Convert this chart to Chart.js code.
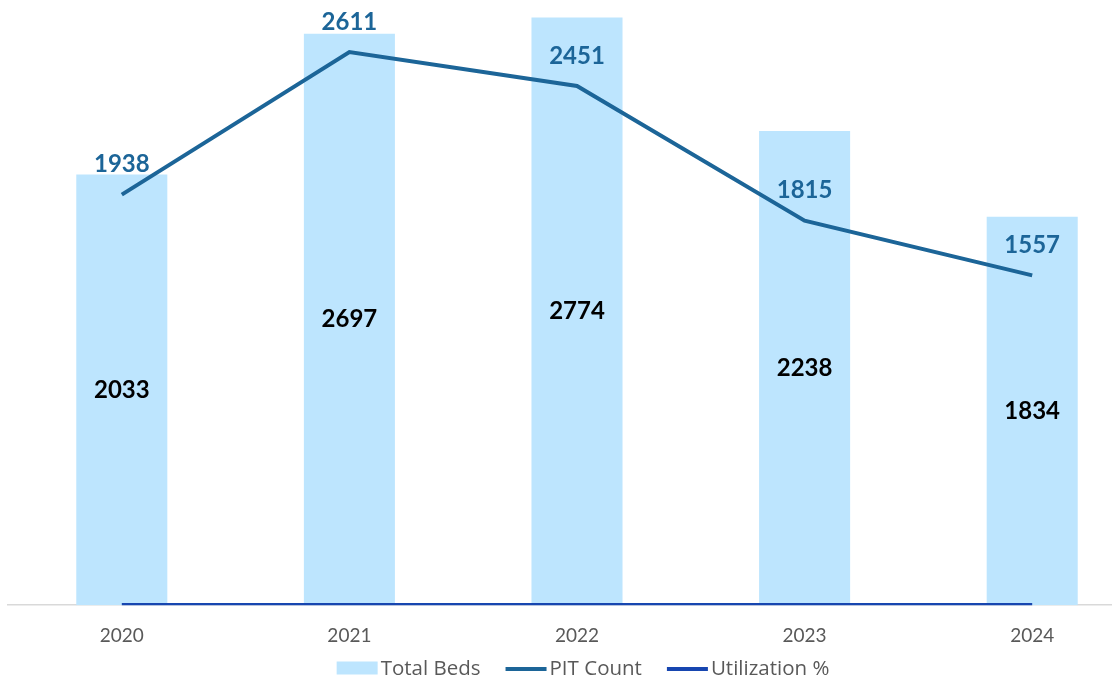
<!DOCTYPE html>
<html>
<head>
<meta charset="utf-8">
<script src="https://cdn.jsdelivr.net/npm/chart.js@4.4.1/dist/chart.umd.min.js"></script>
<style>
html,body{margin:0;padding:0;background:#fff;overflow:hidden;}
#wrap{width:1112px;height:680px;overflow:hidden;position:relative;}
canvas{display:block;}
</style>
</head>
<body>
<div id="wrap"><canvas id="c" width="1166" height="680"></canvas></div>
<script>
const categories = ['2020', '2021', '2022', '2023', '2024'];
const totalBeds = [2033, 2697, 2774, 2238, 1834];
const pitCount = [1938, 2611, 2451, 1815, 1557];
const utilization = [0.95, 0.97, 0.88, 0.81, 0.85];
const seriesNames = ['Total Beds', 'PIT Count', 'Utilization %'];

const BAR_COLOR = '#BDE5FE';
const PIT_COLOR = '#1C6598';
const UTIL_COLOR = '#1746B0';
const FONT = 'Lato, "Open Sans", sans-serif';
const LEGEND_FONT = '"Open Sans", Lato, sans-serif';

const labelPlugin = {
  id: 'valueLabels',
  afterDatasetsDraw(chart) {
    const ctx = chart.ctx;
    ctx.save();
    ctx.font = 'bold 24px ' + FONT;
    ctx.textAlign = 'center';
    ctx.textBaseline = 'middle';
    chart.getDatasetMeta(0).data.forEach((el, i) => {
      ctx.fillStyle = '#000000';
      ctx.fillText(String(totalBeds[i]), el.x, (el.y + el.base) / 2);
    });
    chart.getDatasetMeta(1).data.forEach((el, i) => {
      ctx.fillStyle = PIT_COLOR;
      ctx.fillText(String(pitCount[i]), el.x, el.y - 30);
    });
    ctx.restore();
  }
};

const legendPlugin = {
  id: 'bottomLegend',
  afterDraw(chart) {
    const ctx = chart.ctx;
    ctx.save();
    ctx.font = '20.5px ' + LEGEND_FONT;
    ctx.textBaseline = 'middle';
    ctx.textAlign = 'left';
    const symW = 41, textGap = 3, itemGap = 25;
    const items = chart.data.datasets.map(ds => ({
      text: ds.label,
      type: ds.type,
      color: ds.type === 'bar' ? ds.backgroundColor : ds.borderColor,
      w: symW + textGap + ctx.measureText(ds.label).width
    }));
    const total = items.reduce((s, it) => s + it.w, 0) + itemGap * (items.length - 1);
    let x = chart.width / 2 - total / 2;
    const y = 668;
    items.forEach(it => {
      if (it.type === 'bar') {
        ctx.fillStyle = it.color;
        ctx.fillRect(x, y - 6.5, symW, 13);
      } else {
        ctx.strokeStyle = it.color;
        ctx.lineWidth = 4;
        ctx.beginPath();
        ctx.moveTo(x, y + 1);
        ctx.lineTo(x + symW, y + 1);
        ctx.stroke();
      }
      ctx.fillStyle = '#595959';
      ctx.fillText(it.text, x + symW + textGap, y + 1);
      x += it.w + itemGap;
    });
    ctx.restore();
  }
};

new Chart(document.getElementById('c'), {
  data: {
    labels: categories,
    datasets: [
      {
        type: 'bar',
        label: seriesNames[0],
        data: totalBeds,
        backgroundColor: BAR_COLOR,
        borderWidth: 0,
        barPercentage: 0.4,
        categoryPercentage: 1.0,
        order: 3
      },
      {
        type: 'line',
        label: seriesNames[1],
        data: pitCount,
        borderColor: PIT_COLOR,
        backgroundColor: PIT_COLOR,
        borderWidth: 4,
        pointRadius: 0,
        tension: 0,
        order: 2
      },
      {
        type: 'line',
        label: seriesNames[2],
        data: utilization,
        borderColor: UTIL_COLOR,
        backgroundColor: UTIL_COLOR,
        borderWidth: 4,
        pointRadius: 0,
        tension: 0,
        order: 1
      }
    ]
  },
  options: {
    responsive: false,
    animation: false,
    layout: { padding: { left: 8, right: 20, top: 12, bottom: 14 } },
    plugins: {
      tooltip: { enabled: false },
      legend: { display: false }
    },
    scales: {
      x: {
        grid: { display: false, drawTicks: false, tickLength: 0 },
        border: { display: true, color: '#D9D9D9', width: 1.5 },
        ticks: { color: '#595959', font: { family: FONT, size: 19 }, padding: 19 }
      },
      y: {
        display: false,
        min: 0,
        max: 2800
      }
    }
  },
  plugins: [labelPlugin, legendPlugin]
});
</script>
</body>
</html>
